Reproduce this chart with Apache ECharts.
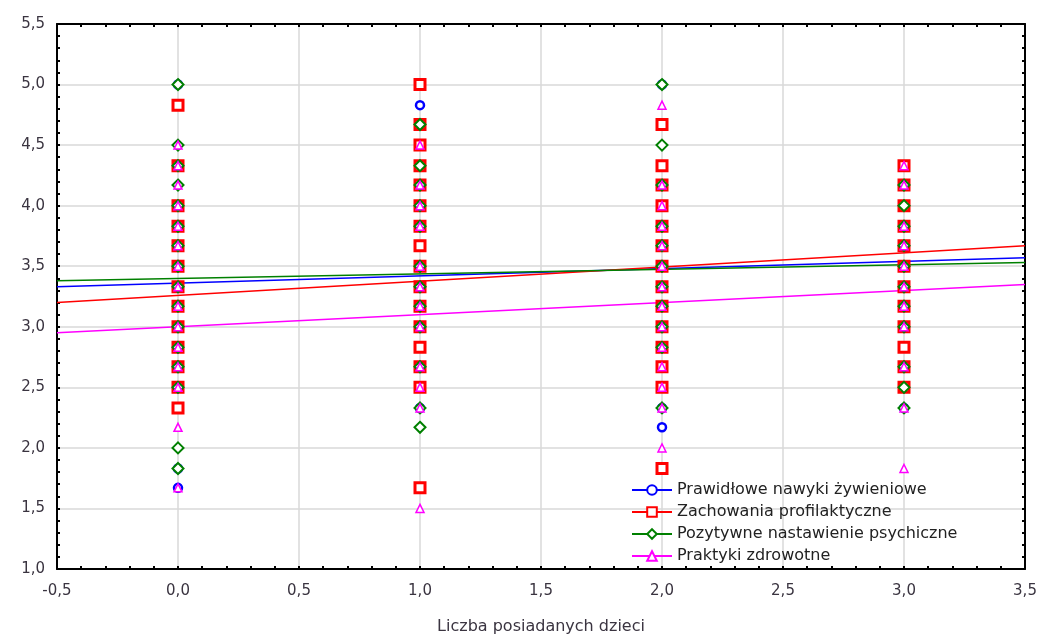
<!DOCTYPE html>
<html>
<head>
<meta charset="utf-8">
<script src="https://cdn.jsdelivr.net/npm/echarts@6/dist/echarts.min.js"></script>
<style>
  html, body { margin: 0; padding: 0; background: #fff; }
  #chart { width: 1041px; height: 640px; }
</style>
</head>
<body>
<div id="chart"></div>
<script>
// liczba dzieci (os X)
const kategorie = [0, 1, 2, 3];
const zakresX = [-0.5, 3.5];

// wartosci, kolumna po kolumnie (0, 1, 2, 3 dzieci)
const nawyki = [
  [5.0, 4.0, 3.83, 3.67, 3.5, 3.33, 3.17, 3.0, 2.83, 2.67, 2.5, 1.83, 1.67],
  [4.83, 4.5, 4.17, 4.0, 3.83, 3.5, 3.33, 3.17, 3.0, 2.67, 2.33],
  [5.0, 4.33, 4.17, 3.83, 3.67, 3.5, 3.33, 3.17, 3.0, 2.83, 2.33, 2.17],
  [4.17, 3.83, 3.67, 3.5, 3.33, 3.17, 3.0, 2.67, 2.33]
];
const profilaktyka = [
  [4.83, 4.33, 4.0, 3.83, 3.67, 3.5, 3.33, 3.17, 3.0, 2.83, 2.67, 2.5, 2.33],
  [5.0, 4.67, 4.5, 4.33, 4.17, 4.0, 3.83, 3.67, 3.5, 3.33, 3.17, 3.0, 2.83, 2.67, 2.5, 1.67],
  [4.67, 4.33, 4.17, 4.0, 3.83, 3.67, 3.5, 3.33, 3.17, 3.0, 2.83, 2.67, 2.5, 1.83],
  [4.33, 4.17, 4.0, 3.83, 3.67, 3.5, 3.33, 3.17, 3.0, 2.83, 2.67, 2.5]
];
const nastawienie = [
  [5.0, 4.5, 4.33, 4.17, 4.0, 3.83, 3.67, 3.5, 3.33, 3.17, 3.0, 2.83, 2.67, 2.5, 2.0, 1.83],
  [4.67, 4.33, 4.17, 4.0, 3.83, 3.5, 3.33, 3.17, 3.0, 2.67, 2.33, 2.17],
  [5.0, 4.5, 4.17, 3.83, 3.67, 3.5, 3.33, 3.17, 3.0, 2.83, 2.33],
  [4.17, 4.0, 3.83, 3.67, 3.5, 3.33, 3.17, 3.0, 2.67, 2.5, 2.33]
];
const praktyki = [
  [4.5, 4.33, 4.17, 4.0, 3.83, 3.67, 3.5, 3.33, 3.17, 3.0, 2.83, 2.67, 2.5, 2.17, 1.67],
  [4.5, 4.17, 4.0, 3.83, 3.5, 3.33, 3.17, 3.0, 2.67, 2.5, 2.33, 1.5],
  [4.83, 4.17, 4.0, 3.83, 3.67, 3.5, 3.33, 3.17, 3.0, 2.83, 2.67, 2.5, 2.33, 2.0],
  [4.33, 4.17, 3.83, 3.67, 3.5, 3.33, 3.17, 3.0, 2.67, 2.33, 1.83]
];

// linie regresji: wartosc na lewym i prawym brzegu (x = -0,5 i 3,5)
const trendNawyki = [3.33, 3.57];
const trendProfilaktyka = [3.20, 3.67];
const trendNastawienie = [3.38, 3.53];
const trendPraktyki = [2.95, 3.35];

const nazwy = [
  'Prawidłowe nawyki żywieniowe',
  'Zachowania profilaktyczne',
  'Pozytywne nastawienie psychiczne',
  'Praktyki zdrowotne'
];

const chart = echarts.init(document.getElementById('chart'));

const przecinek = v => v.toFixed(1).replace('.', ',');
const font = "'DejaVu Sans', 'Liberation Sans', Arial, sans-serif";

function punkty(kolumny) {
  const out = [];
  kolumny.forEach((ys, i) => ys.forEach(y => out.push([kategorie[i], y])));
  return out;
}

const style = [
  { color: '#0000ff', symbol: 'circle', size: 8, border: 2.5 },
  { color: '#ff0000', symbol: 'rect', size: 10, border: 3 },
  { color: '#008000', symbol: 'diamond', size: 11, border: 2 },
  { color: '#ff00ff', symbol: 'triangle', size: 8, border: 1.5 }
];
const dane = [nawyki, profilaktyka, nastawienie, praktyki];
const trendy = [trendNawyki, trendProfilaktyka, trendNastawienie, trendPraktyki];

const series = [];
// najpierw linie (ikona legendy), potem punkty
nazwy.forEach((n, i) => {
  series.push({
    name: n,
    type: 'line',
    data: [[zakresX[0], trendy[i][0]], [zakresX[1], trendy[i][1]]],
    symbol: style[i].symbol,
    symbolSize: style[i].size,
    showSymbol: false,
    lineStyle: { color: style[i].color, width: 1.5 },
    itemStyle: { color: '#fff', borderColor: style[i].color, borderWidth: style[i].border },
    z: 2,
    silent: true
  });
});
nazwy.forEach((n, i) => {
  series.push({
    name: n,
    type: 'scatter',
    data: punkty(dane[i]),
    symbol: style[i].symbol,
    symbolSize: style[i].size,
    itemStyle: { color: '#fff', borderColor: style[i].color, borderWidth: style[i].border, opacity: 1 },
    z: 3 + i
  });
});

const tickIn = { show: true, inside: true, length: 3, lineStyle: { color: '#000', width: 2 } };
const minorIn = { show: true, splitNumber: 5, length: 3, lineStyle: { color: '#000', width: 2 } };

const option = {
  animation: false,
  textStyle: { fontFamily: font },
  grid: { left: 57, right: 16, top: 24, bottom: 67 },
  legend: {
    data: nazwy,
    orient: 'vertical',
    left: 626,
    top: 476,
    itemWidth: 40,
    itemHeight: 12,
    itemGap: 4,
    textStyle: { fontSize: 16, lineHeight: 18, color: '#222', fontFamily: font }
  },
  xAxis: [
    {
      type: 'value',
      min: -0.5, max: 3.5, interval: 0.5,
      name: 'Liczba posiadanych dzieci',
      nameLocation: 'middle',
      nameGap: 50,
      nameTextStyle: { fontSize: 16, color: '#3a3440', fontFamily: font },
      axisLine: { show: true, onZero: false, lineStyle: { color: '#000', width: 2 } },
      axisTick: tickIn,
      minorTick: minorIn,
      axisLabel: { formatter: przecinek, fontSize: 15, color: '#3a3440', margin: 15 },
      splitLine: { show: true, lineStyle: { color: '#d9d9d9', width: 1.5 } }
    },
    {
      type: 'value', position: 'top',
      min: -0.5, max: 3.5, interval: 0.5,
      axisLine: { show: true, onZero: false, lineStyle: { color: '#000', width: 2 } },
      axisTick: tickIn, minorTick: minorIn,
      axisLabel: { show: false }, splitLine: { show: false }
    }
  ],
  yAxis: [
    {
      type: 'value',
      min: 1.0, max: 5.5, interval: 0.5,
      axisLine: { show: true, onZero: false, lineStyle: { color: '#000', width: 2 } },
      axisTick: tickIn,
      minorTick: minorIn,
      axisLabel: { formatter: przecinek, fontSize: 15, color: '#3a3440', margin: 12 },
      splitLine: { show: true, lineStyle: { color: '#d9d9d9', width: 1.5 } }
    },
    {
      type: 'value', position: 'right',
      min: 1.0, max: 5.5, interval: 0.5,
      axisLine: { show: true, onZero: false, lineStyle: { color: '#000', width: 2 } },
      axisTick: tickIn, minorTick: minorIn,
      axisLabel: { show: false }, splitLine: { show: false }
    }
  ],
  series: series
};

chart.setOption(option);
</script>
</body>
</html>
